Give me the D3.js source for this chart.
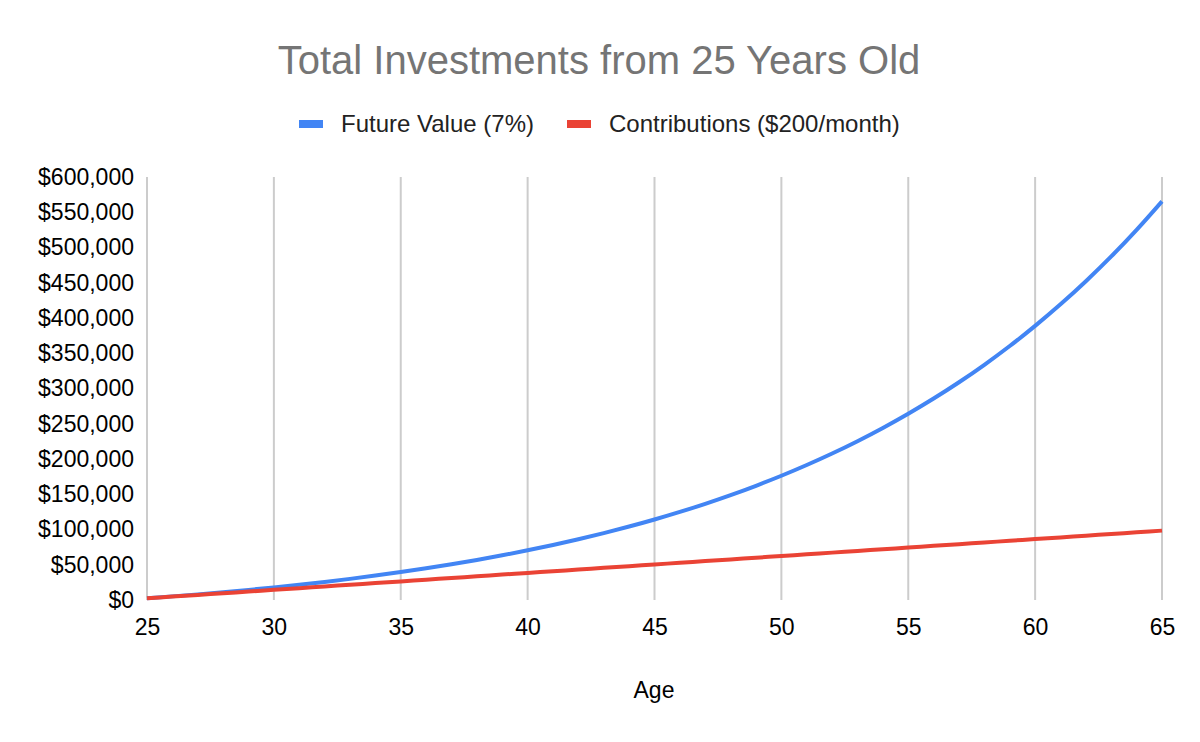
<!DOCTYPE html>
<html><head><meta charset="utf-8">
<script src="https://cdn.jsdelivr.net/npm/d3@7"></script>
<style>body{margin:0;background:#fff}svg{display:block;font-family:Arial,"Liberation Sans",sans-serif}</style>
</head><body><svg id="c" width="1200" height="742"></svg>
<script>
const ages = d3.range(25, 66);
const futureValue = [2479,5136,7987,11042,14319,17833,21601,25641,29973,34620,39601,44943,50670,56812,63397,70459,78032,86151,94858,104194,114205,124940,136451,148794,162029,176221,191440,207758,225256,244019,264139,285713,308846,333651,360251,388773,419356,452151,487317,525025,565459];
const contributions = [2400,4800,7200,9600,12000,14400,16800,19200,21600,24000,26400,28800,31200,33600,36000,38400,40800,43200,45600,48000,50400,52800,55200,57600,60000,62400,64800,67200,69600,72000,74400,76800,79200,81600,84000,86400,88800,91200,93600,96000,98400];
const xTicks = [25,30,35,40,45,50,55,60,65];
const yTicks = d3.range(0, 600001, 50000);
const seriesNames = ["Future Value (7%)", "Contributions ($200/month)"];
const colors = ["#4285F4", "#EA4335"];

const svg = d3.select("#c");
const x = d3.scaleLinear().domain([25, 65]).range([147, 1162]);
const y = d3.scaleLinear().domain([0, 600000]).range([600, 177]);

svg.append("text").attr("x", 599).attr("y", 74).attr("text-anchor", "middle")
  .attr("font-size", 40).attr("fill", "#757575").text("Total Investments from 25 Years Old");

// gridlines
svg.append("g").selectAll("line").data(xTicks).join("line")
  .attr("x1", d => x(d)).attr("x2", d => x(d)).attr("y1", y(600000)).attr("y2", y(0))
  .attr("stroke", "#cccccc").attr("stroke-width", 2);

// y axis labels
const yAxis = svg.append("g").attr("transform", "translate(147,0)")
  .call(d3.axisLeft(y).tickValues(yTicks).tickSize(0).tickPadding(13).tickFormat(d => "$" + d3.format(",")(d)));
yAxis.select(".domain").remove();
yAxis.selectAll("text").attr("font-size", 23).attr("fill", "#000").attr("font-family", "Arial,'Liberation Sans',sans-serif");

const xAxis = svg.append("g").attr("transform", "translate(0,600)")
  .call(d3.axisBottom(x).tickValues(xTicks).tickSize(0).tickPadding(19).tickFormat(d3.format("d")));
xAxis.select(".domain").remove();
xAxis.selectAll("text").attr("font-size", 23).attr("fill", "#000").attr("font-family", "Arial,'Liberation Sans',sans-serif");

svg.append("text").attr("x", 654).attr("y", 698).attr("text-anchor", "middle")
  .attr("font-size", 23).attr("fill", "#000").text("Age");

const line = d3.line().x(d => x(d[0])).y(d => y(d[1])).curve(d3.curveMonotoneX);
[futureValue, contributions].forEach((vals, i) => {
  svg.append("path").datum(ages.map((a, j) => [a, vals[j]]))
    .attr("d", line).attr("fill", "none").attr("stroke", colors[i])
    .attr("stroke-width", 4).attr("stroke-linejoin", "round");
});

// legend
const legendX = [299, 567];
seriesNames.forEach((n, i) => {
  svg.append("rect").attr("x", legendX[i]).attr("y", 120).attr("width", 24).attr("height", 8).attr("fill", colors[i]);
  svg.append("text").attr("x", legendX[i] + 42).attr("y", 132).attr("font-size", 24).attr("fill", "#222").text(n);
});
</script></body></html>
